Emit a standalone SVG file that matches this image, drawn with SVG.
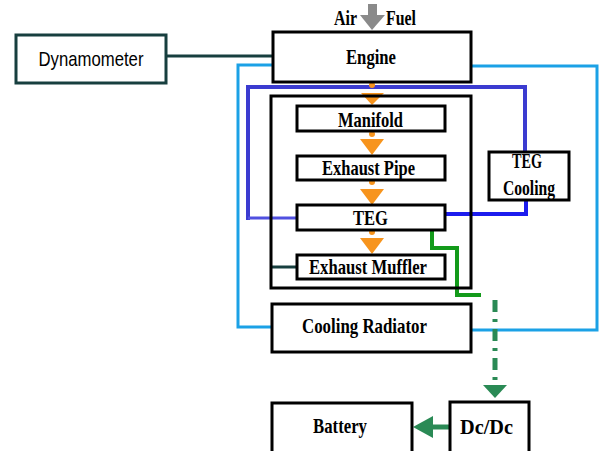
<svg xmlns="http://www.w3.org/2000/svg" width="599" height="451" viewBox="0 0 599 451">
<defs>
<style>
.box{fill:#fff;stroke:#000;stroke-width:3}
.t{font-family:"Liberation Serif","Times New Roman",serif;font-weight:bold;font-size:21px;fill:#000;text-anchor:middle}
.s{font-family:"Liberation Sans",Arial,sans-serif;font-size:21px;fill:#000;text-anchor:middle}
.lb{fill:none;stroke:#1ba1e6;stroke-width:3}
.db{fill:none;stroke:#3b3bd0;stroke-width:4}
.orange{fill:#f7941d}
</style>
</defs>
<rect width="599" height="451" fill="#fff"/>
<g id="connectors">
  <line x1="166" y1="56" x2="273" y2="56" stroke="#173f3f" stroke-width="3"/>
  <polyline class="lb" points="273,65 238,65 238,327 273,327"/>
  <polyline class="lb" points="471,66 597,66 597,330 471,330"/>
  <polyline class="db" points="248,220 248,87 525,87 525,152"/>
  <polyline points="248,218 297,218" fill="none" stroke="#5050e0" stroke-width="3"/>
  <polyline points="445,214 526,214 526,200" fill="none" stroke="#1c1cee" stroke-width="4"/>
  <line x1="270" y1="267" x2="298" y2="267" stroke="#173f3f" stroke-width="3"/>
  <polyline points="432,230 432,248 457,248 457,295 481,295" fill="none" stroke="#139a1a" stroke-width="4"/>
  <line x1="495" y1="300" x2="495" y2="386" stroke="#2a8a55" stroke-width="5" stroke-dasharray="12,7,3,7"/>
  <polygon points="483,385 507,385 495,398" fill="#2a8a55"/>
  <line x1="449" y1="427" x2="431" y2="427" stroke="#2a8a55" stroke-width="5"/>
  <polygon points="433,416 433,438 413,427" fill="#2a8a55"/>
  <circle class="orange" cx="372" cy="85" r="3"/>
  <polygon class="orange" points="361,93 384,93 372,105"/>
  <circle class="orange" cx="372" cy="134" r="3"/>
  <polygon class="orange" points="360,139 384,139 372,155"/>
  <circle class="orange" cx="372" cy="182" r="3"/>
  <polygon class="orange" points="360,189 384,189 372,205"/>
  <circle class="orange" cx="372" cy="232" r="3"/>
  <polygon class="orange" points="360,238 384,238 372,254"/>
  <rect x="368" y="4" width="9" height="12" fill="#8a8a8a"/>
  <polygon points="360,15 385,15 372,30" fill="#8a8a8a"/>
</g>
<g id="airfuel">
  <text class="t" x="345.5" y="25" font-size="18" textLength="23" lengthAdjust="spacingAndGlyphs">Air</text>
  <text class="t" x="401" y="25" font-size="18" textLength="30" lengthAdjust="spacingAndGlyphs">Fuel</text>
</g>
<g id="dynamometer">
  <rect x="16" y="35" width="150" height="48" fill="#fff" stroke="#173f3f" stroke-width="3"/>
  <text class="s" x="91" y="66" textLength="105" lengthAdjust="spacingAndGlyphs">Dynamometer</text>
</g>
<g id="engine">
  <rect class="box" x="273" y="32" width="198" height="50"/>
  <text class="t" x="371" y="64" font-size="20" textLength="50" lengthAdjust="spacingAndGlyphs">Engine</text>
</g>
<g id="exhaust-system">
  <rect x="271" y="96" width="200" height="192" fill="none" stroke="#000" stroke-width="3"/>
</g>
<g id="manifold">
  <rect class="box" x="297" y="106" width="148" height="25"/>
  <text class="t" x="370.5" y="127" textLength="65" lengthAdjust="spacingAndGlyphs">Manifold</text>
</g>
<g id="exhaust-pipe">
  <rect class="box" x="297" y="156" width="148" height="24"/>
  <text class="t" x="368.5" y="175" textLength="93" lengthAdjust="spacingAndGlyphs">Exhaust Pipe</text>
</g>
<g id="teg">
  <rect class="box" x="297" y="205" width="148" height="25"/>
  <text class="t" x="370.5" y="225" textLength="35" lengthAdjust="spacingAndGlyphs">TEG</text>
</g>
<g id="exhaust-muffler">
  <rect class="box" x="297" y="255" width="148" height="24"/>
  <text class="t" x="368" y="274" textLength="118" lengthAdjust="spacingAndGlyphs">Exhaust Muffler</text>
</g>
<g id="teg-cooling">
  <rect class="box" x="489" y="152" width="80" height="48"/>
  <text class="t" x="527" y="168" font-size="18" textLength="30" lengthAdjust="spacingAndGlyphs">TEG</text>
  <text class="t" x="529" y="195" font-size="20" textLength="52" lengthAdjust="spacingAndGlyphs">Cooling</text>
</g>
<g id="cooling-radiator">
  <rect class="box" x="272" y="304" width="199" height="48"/>
  <text class="t" x="364.5" y="333" textLength="125" lengthAdjust="spacingAndGlyphs">Cooling Radiator</text>
</g>
<g id="battery">
  <rect class="box" x="272" y="403" width="140" height="52"/>
  <text class="t" x="340" y="433" textLength="54" lengthAdjust="spacingAndGlyphs">Battery</text>
</g>
<g id="dcdc">
  <rect class="box" x="450" y="402" width="79" height="53"/>
  <text class="t" x="486.5" y="434" textLength="53" lengthAdjust="spacingAndGlyphs">Dc/Dc</text>
</g>
</svg>
